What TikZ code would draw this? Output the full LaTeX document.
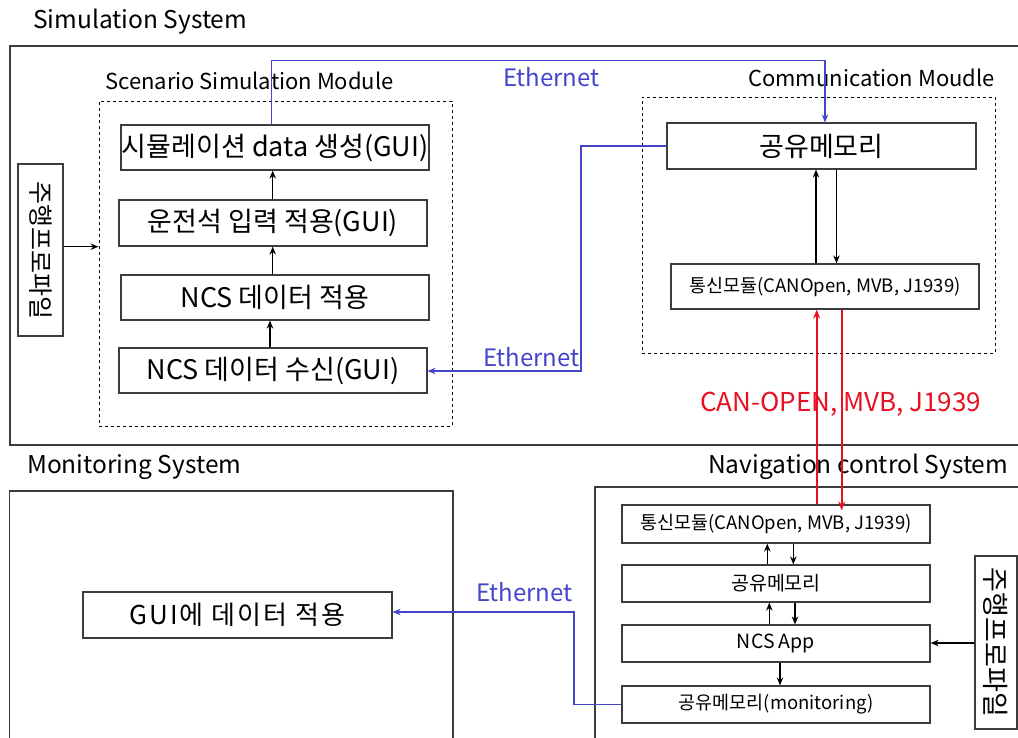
\documentclass[tikz,border=0pt]{standalone}
\usepackage{fontspec}
\setmainfont{Noto Sans CJK KR}
\usetikzlibrary{arrows.meta,calc}
\definecolor{eblue}{RGB}{68,68,204}
\definecolor{cred}{RGB}{232,16,32}
\definecolor{lgray}{RGB}{60,60,60}
\begin{document}
\begin{tikzpicture}[x=1pt,y=-1pt,
  bx/.style={draw=lgray,line width=1.2pt,inner sep=0pt,font=\fontsize{27}{29}\selectfont},
  sbx/.style={draw=lgray,line width=1.2pt,inner sep=0pt,font=\fontsize{18.5}{20}\selectfont},
  frame/.style={draw=lgray,line width=1.2pt},
  dbox/.style={draw=black,dashed,line width=0.9pt,inner sep=0pt},
  ttl/.style={font=\fontsize{24.5}{26}\selectfont,inner sep=0pt,anchor=west},
  mlab/.style={font=\fontsize{22}{24}\selectfont,inner sep=0pt,anchor=west},
  elab/.style={font=\fontsize{24}{26}\selectfont,inner sep=0pt,anchor=west,text=eblue},
  arr/.style={-{Stealth[length=8pt,width=6.5pt]},line width=1.3pt,black},
  barr/.style={-{Stealth[length=8pt,width=6.5pt]},line width=1.1pt,eblue},
  rarr/.style={-{Stealth[length=9pt,width=7pt]},line width=2pt,cred}
]
\useasboundingbox (0,0) rectangle (1018,737);
% frames
\draw[frame] (1030,46) -- (10,46) -- (10,445) -- (1030,445);
\draw[frame] (9.5,750) -- (9.5,491) -- (453,491) -- (453,750);
\draw[frame] (1030,487) -- (595,487) -- (595,750);
% titles
\node[ttl] (tsim) at (33,22) {Simulation System};
\node[ttl] (tmon) at (27,467) {Monitoring System};
\node[ttl] (tnav) at (708,467) {Navigation control System};
\node[mlab] (tscen) at (105,81) {Scenario Simulation Module};
\node[mlab] (tcomm) at (748,78) {Communication Moudle};
% dashed module boxes
\node[dbox,minimum width=353pt,minimum height=325pt] (scen) at (275.5,263.5) {};
\node[dbox,minimum width=353pt,minimum height=256pt] (comm) at (818.5,225) {};
% simulation boxes
\node[bx,minimum width=308pt,minimum height=45pt] (b1) at (275,147.5) {시뮬레이션 data 생성(GUI)};
\node[bx,minimum width=308pt,minimum height=46pt] (b2) at (273,223) {운전석 입력 적용(GUI)};
\node[bx,minimum width=308pt,minimum height=45pt] (b3) at (275,297.5) {NCS 데이터 적용};
\node[bx,minimum width=308pt,minimum height=45pt] (b4) at (273,370.5) {NCS 데이터 수신(GUI)};
\node[bx,minimum width=45pt,minimum height=172pt] (p1) at (40.5,250) {};
\node[font=\fontsize{25}{27}\selectfont,rotate=-90,inner sep=0pt] (p1t) at (p1.center) {주행프로파일};
% comm boxes
\node[bx,minimum width=309pt,minimum height=46pt] (c1) at (821.5,146) {공유메모리};
\node[sbx,minimum width=308pt,minimum height=45pt] (c2) at (825,286.5) {통신모듈(CANOpen, MVB, J1939)};
% monitoring
\node[bx,minimum width=309pt,minimum height=46pt,font=\fontsize{26}{28}\selectfont\addfontfeature{LetterSpace=8}] (gui) at (237.5,615) {GUI에 데이터 적용};
% navigation
\node[sbx,minimum width=308pt,minimum height=38pt] (n1) at (776,524) {통신모듈(CANOpen, MVB, J1939)};
\node[sbx,minimum width=308pt,minimum height=37pt,font=\fontsize{19.5}{21}\selectfont] (n2) at (776,583.5) {공유메모리};
\node[sbx,minimum width=308pt,minimum height=37pt,font=\fontsize{19.5}{21}\selectfont] (n3) at (776,643.5) {NCS App};
\node[sbx,minimum width=308pt,minimum height=37pt] (n4) at (776,704.5) {공유메모리(monitoring)};
\node[bx,minimum width=42pt,minimum height=173pt] (p2) at (996,642.5) {};
\node[font=\fontsize{27}{29}\selectfont,rotate=-90,inner sep=0pt] (p2t) at (p2.center) {주행프로파일};
% labels
\node[elab] (eth1) at (503,77) {Ethernet};
\node[elab] (eth2) at (483,357) {Ethernet};
\node[elab] (eth3) at (476,592) {Ethernet};
\node[font=\fontsize{26}{28}\selectfont,inner sep=0pt,anchor=west,text=cred] (can) at (700,404) {CAN-OPEN, MVB, J1939};
% simulation arrows
\draw[arr] ([xshift=-0.3pt]b2.north) -- ([xshift=-0.3pt]b2.north |- b1.south);
\draw[arr] ([xshift=-2.3pt]b3.north) -- ([xshift=-2.3pt]b3.north |- b2.south);
\draw[arr] ([xshift=-3pt]b4.north) -- ([xshift=-3pt]b4.north |- b3.south);
\draw[arr] (p1.east |- 0,246.7) -- (scen.west |- 0,246.7);
% ethernet paths
\coordinate (et1) at (825,60.7);
\draw[barr] ([xshift=-3.3pt]b1.north) |- (et1) -- (et1 |- c1.north);
\coordinate (et2) at (581,371);
\draw[barr] (c1.west) -| (et2) -- (et2 -| b4.east);
\coordinate (et3) at (574,612);
\draw[barr] (n4.west) -| (et3) -- (et3 -| gui.east);
% comm module arrows
\draw[arr] ([xshift=-9pt]c2.north) -- ([xshift=-9pt]c2.north |- c1.south);
\draw[arr] ([xshift=15pt]c1.south) -- ([xshift=15pt]c1.south |- c2.north);
% red arrows
\draw[rarr] ([xshift=40.7pt]n1.north) -- ([xshift=40.7pt]n1.north |- c2.south);
\draw[rarr] ([xshift=16.7pt]c2.south) -- ([xshift=16.7pt,yshift=-6pt]c2.south |- n1.north);
% navigation arrows
\draw[arr] ([xshift=-8.7pt]n2.north) -- ([xshift=-8.7pt]n2.north |- n1.south);
\draw[arr] ([xshift=17.3pt]n1.south) -- ([xshift=17.3pt]n1.south |- n2.north);
\draw[arr] ([xshift=-6.7pt]n3.north) -- ([xshift=-6.7pt]n3.north |- n2.south);
\draw[arr] ([xshift=19pt]n2.south) -- ([xshift=19pt]n2.south |- n3.north);
\draw[arr] ([xshift=4pt]n3.south) -- ([xshift=4pt]n3.south |- n4.north);
\draw[arr] (p2.west |- 0,643) -- (n3.east |- 0,643);
\end{tikzpicture}
\end{document}
